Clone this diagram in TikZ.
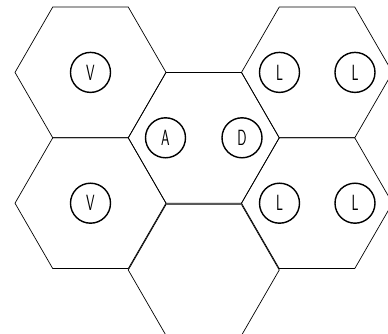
\documentclass[tikz,border=0pt]{standalone}
\usetikzlibrary{shapes.geometric}
\begin{document}
\begin{tikzpicture}[x=1pt,y=-1pt,
  hexcell/.style={regular polygon,regular polygon sides=6,minimum size=151pt,inner sep=0pt,outer sep=0pt,draw=black,line width=0.7pt},
  token/.style={circle,draw=black,line width=1.4pt,minimum size=40pt,inner sep=0pt,font=\sffamily\fontsize{22}{22}\selectfont}]
\useasboundingbox (0,0) rectangle (388,334);
\clip (0,0) rectangle (388,334);
\node[hexcell] (h1) at (90.5,72.4) {};
\node[hexcell] (h2) at (90.5,203.2) {};
\node[hexcell] (h3) at (203.75,137.8) {};
\node[hexcell] (h4) at (317,72.4) {};
\node[hexcell] (h5) at (317,203.2) {};
\node[hexcell] (h6) at (203.75,270) {};
\node[token] (v1) at (90.5,72.4) {\scalebox{0.62}[1]{V}};
\node[token] (v2) at (90.5,203.2) {\scalebox{0.62}[1]{V}};
\node[token] (a) at (165.5,137.8) {\scalebox{0.62}[1]{A}};
\node[token] (d) at (242,137.8) {\scalebox{0.62}[1]{D}};
\node[token] (l1) at (279.5,72.4) {\scalebox{0.62}[1]{L}};
\node[token] (l2) at (355,72.4) {\scalebox{0.62}[1]{L}};
\node[token] (l3) at (279.5,203.2) {\scalebox{0.62}[1]{L}};
\node[token] (l4) at (355,203.2) {\scalebox{0.62}[1]{L}};
\end{tikzpicture}
\end{document}
